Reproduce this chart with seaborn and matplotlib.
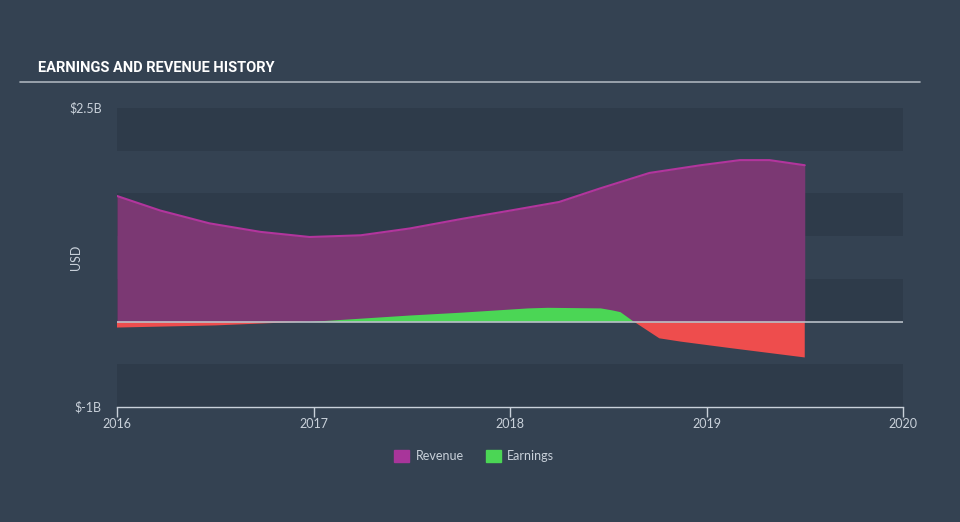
import numpy as np
import pandas as pd
import matplotlib
matplotlib.use("Agg")
import matplotlib.pyplot as plt
from matplotlib.patches import Patch
import seaborn as sns

# ---- data (USD billions) ----
rev_dates = [2016.0, 2016.22, 2016.47, 2016.73, 2016.98, 2017.24, 2017.49, 2017.75,
             2018.04, 2018.25, 2018.46, 2018.71, 2018.97, 2019.17, 2019.32, 2019.5]
revenue = [1.47, 1.30, 1.15, 1.05, 0.99, 1.01, 1.09, 1.20,
           1.315, 1.40, 1.56, 1.74, 1.83, 1.89, 1.89, 1.83]

earn_dates = [2016.0, 2016.5, 2016.97, 2017.24, 2017.49, 2017.75, 2018.09, 2018.19,
              2018.46, 2018.52, 2018.56, 2018.63, 2018.76, 2018.87, 2019.12, 2019.5]
earnings = [-0.07, -0.045, 0.0, 0.04, 0.077, 0.11, 0.16, 0.167,
            0.16, 0.136, 0.116, 0.0, -0.196, -0.235, -0.31, -0.42]

year_ticks = [2016, 2017, 2018, 2019, 2020]
y_ticks = [2.5, -1.0]
y_tick_labels = ["$2.5B", "$-1B"]

BG = "#344252"
BAND = "#2e3b4a"
TXT = "#c9d1da"
REV_FILL = "#7b3873"
REV_LINE = "#b2359d"
GREEN = "#4bd655"
RED = "#ee4d4d"

sns.set_theme(style="dark")
plt.rcParams["font.family"] = ["Lato", "DejaVu Sans"]

fig = plt.figure(figsize=(9.6, 5.22), dpi=100, facecolor=BG)
ax = fig.add_axes([117/960, 1-407/522, (903-117)/960, (407-108)/522])
ax.set_facecolor(BG)

for lo in [2.0, 1.0, 0.0, -1.0]:
    ax.axhspan(lo, lo + 0.5, color=BAND, lw=0, zorder=0)

rev_df = pd.DataFrame({"date": rev_dates, "value": revenue})
earn_df = pd.DataFrame({"date": earn_dates, "value": earnings})

ax.fill_between(rev_df["date"], 0, rev_df["value"], color=REV_FILL, lw=0, zorder=1)
sns.lineplot(data=rev_df, x="date", y="value", ax=ax, color=REV_LINE, lw=1.5, zorder=2)

e = np.array(earnings)
ax.fill_between(earn_df["date"], 0, e, where=e >= 0, interpolate=True, color=GREEN, lw=0, zorder=3)
ax.fill_between(earn_df["date"], 0, e, where=e <= 0, interpolate=True, color=RED, lw=0, zorder=3)

ax.axhline(0, color="#b8bfc7", lw=1.2, zorder=4)

ax.set_xlim(2016, 2020)
ax.set_ylim(-1.0, 2.5)
ax.set_xticks(year_ticks)
ax.set_xticklabels([str(y) for y in year_ticks])
ax.set_yticks(y_ticks)
ax.set_yticklabels(y_tick_labels)
ax.tick_params(axis="x", colors="#c9d1da", labelcolor=TXT, labelsize=9, length=7, width=1,
               direction="out", pad=1, bottom=True)
ax.tick_params(axis="y", labelcolor=TXT, labelsize=9, length=0, pad=11)
for t in ax.get_yticklabels():
    t.set_verticalalignment("center")
ax.set_xlabel("")
ax.set_ylabel("USD", color=TXT, fontsize=9)
ax.yaxis.set_label_coords(-0.044, 0.5)

for s in ["top", "right", "left"]:
    ax.spines[s].set_visible(False)
ax.spines["bottom"].set_color("#c9d1da")
ax.spines["bottom"].set_linewidth(1)

# title
fig.text(38/960, 1-68/522, "EARNINGS AND REVENUE HISTORY", color="white", fontsize=10.5,
         fontweight="bold", family=["Roboto", "DejaVu Sans"],
         va="center", ha="left")
fig.add_artist(plt.Line2D([20/960, 920/960], [1-82/522, 1-82/522], color="#aab2bb", lw=1.2))

# legend
handles = [Patch(color="#a8359a", label="Revenue"), Patch(color=GREEN, label="Earnings")]
leg = fig.legend(handles=handles, loc="center", bbox_to_anchor=(0.494, 1-456/522), ncol=2,
                 frameon=False, fontsize=9, handlelength=1.2, handleheight=1.1,
                 columnspacing=1.8, handletextpad=0.5)
for t in leg.get_texts():
    t.set_color(TXT)

fig.savefig("out.png", dpi=100, facecolor=BG)
